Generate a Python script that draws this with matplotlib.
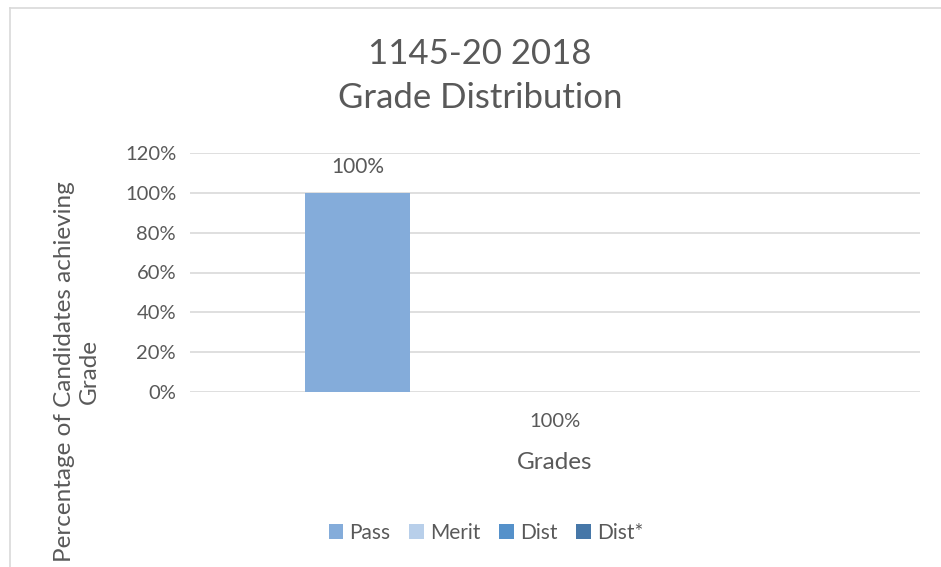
import matplotlib.pyplot as plt
from matplotlib.lines import Line2D

categories = ["100%"]
series_names = ["Pass", "Merit", "Dist", "Dist*"]
series_values = [[100], [0], [0], [0]]
series_colors = ["#84ACDA", "#B8CFEA", "#5591CA", "#4677A8"]
y_ticks = [0, 20, 40, 60, 80, 100, 120]

W, H = 941, 567
plt.rcParams['font.family'] = ['Lato', 'DejaVu Sans']
text_color = "#595959"

fig = plt.figure(figsize=(W / 100, H / 100), dpi=100)
ax = fig.add_axes([190 / W, 1 - 392 / H, 730 / W, (392 - 153) / H])

bar_w = 0.144
start = -0.342
for i, name in enumerate(series_names):
    xs = [c + start + i * bar_w for c in range(len(categories))]
    bars = ax.bar(xs, series_values[i], width=bar_w, align='edge',
                  color=series_colors[i], label=name, zorder=3)
    for b, v in zip(bars, series_values[i]):
        if v > 0:
            ax.text(b.get_x() + b.get_width() / 2, v + 13, f"{v}%",
                    ha='center', va='center', fontsize=15, color=text_color)

ax.set_xlim(-0.5, len(categories) - 0.5)
ax.set_ylim(0, 120)
ax.set_yticks(y_ticks)
ax.set_yticklabels([f"{t}%" for t in y_ticks])
ax.set_xticks(range(len(categories)))
ax.set_xticklabels(categories)
ax.tick_params(axis='y', length=0, pad=10, labelsize=14.5, labelcolor=text_color)
ax.tick_params(axis='x', length=0, pad=15, labelsize=14.5, labelcolor=text_color)
ax.grid(axis='y', color="#D9D9D9", linewidth=1.2, zorder=0)
for s in ax.spines.values():
    s.set_visible(False)

ax.set_xlabel("Grades", fontsize=17.5, color=text_color, labelpad=16)

fig.text(77 / W, 1 - 372 / H, "Percentage of Candidates achieving\nGrade",
         rotation=90, ha='center', va='center', multialignment='center',
         fontsize=17.5, color=text_color, linespacing=1.2)

fig.text(480 / W, 1 - 76 / H, "1145-20 2018\nGrade Distribution", ha='center',
         va='center', fontsize=25, color=text_color, linespacing=1.5)

ax.legend(loc='center', bbox_to_anchor=(486 / W, 1 - 533 / H),
          bbox_transform=fig.transFigure, ncol=4, frameon=False,
          fontsize=15, labelcolor=text_color, handlelength=0.7,
          handleheight=0.7, handletextpad=0.3, columnspacing=0.9)

fig.add_artist(Line2D([10 / W, 10 / W], [0, 1 - 8 / H], color="#D9D9D9", lw=1.2))
fig.add_artist(Line2D([10 / W, 1], [1 - 8 / H, 1 - 8 / H], color="#D9D9D9", lw=1.2))

fig.savefig("out.png", dpi=100)
